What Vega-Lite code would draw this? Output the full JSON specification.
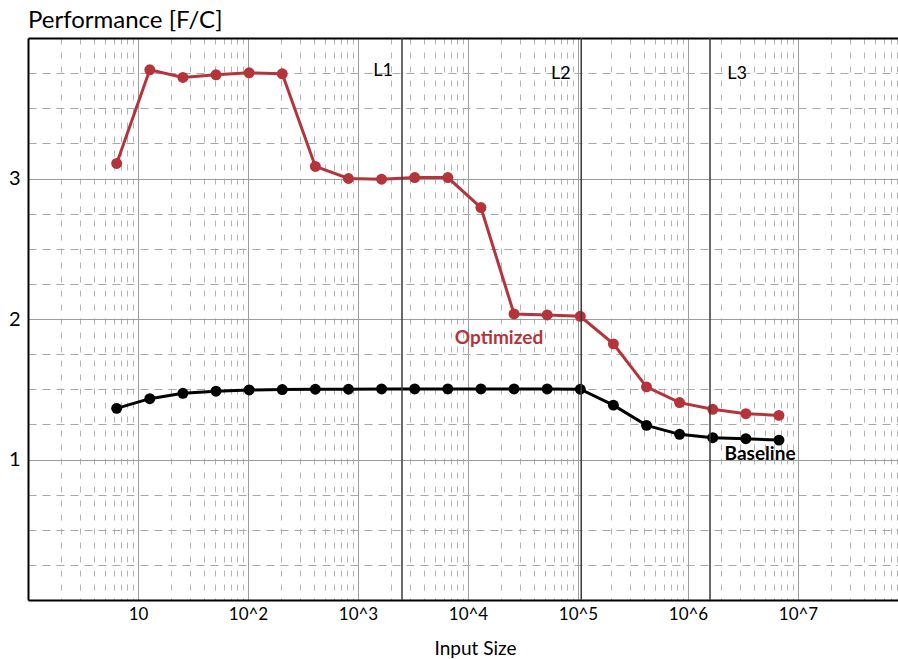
{
  "$schema": "https://vega.github.io/schema/vega-lite/v6.json",
  "width": 870,
  "height": 562,
  "autosize": {"type": "none"},
  "padding": {"left": 28, "top": 38, "right": 0, "bottom": 59},
  "background": "white",
  "config": {
    "view": {"stroke": null},
    "font": "Lato",
    "axis": {"labelFont": "Lato", "titleFont": "Lato"}
  },
  "title": {
    "text": "Performance [F/C]",
    "anchor": "start",
    "frame": "group",
    "baseline": "alphabetic",
    "offset": -15,
    "fontSize": 24,
    "fontWeight": "normal",
    "font": "Lato",
    "color": "black"
  },
  "datasets": {
    "perf": [
      {"size": 6.4, "perf": 3.107, "series": "Optimized"},
      {"size": 12.8, "perf": 3.774, "series": "Optimized"},
      {"size": 25.6, "perf": 3.719, "series": "Optimized"},
      {"size": 51.2, "perf": 3.738, "series": "Optimized"},
      {"size": 102.4, "perf": 3.752, "series": "Optimized"},
      {"size": 204.8, "perf": 3.745, "series": "Optimized"},
      {"size": 409.6, "perf": 3.086, "series": "Optimized"},
      {"size": 819.2, "perf": 3.0, "series": "Optimized"},
      {"size": 1638.4, "perf": 2.995, "series": "Optimized"},
      {"size": 3276.8, "perf": 3.007, "series": "Optimized"},
      {"size": 6553.6, "perf": 3.007, "series": "Optimized"},
      {"size": 13107.2, "perf": 2.793, "series": "Optimized"},
      {"size": 26214.4, "perf": 2.036, "series": "Optimized"},
      {"size": 52428.8, "perf": 2.029, "series": "Optimized"},
      {"size": 104857.6, "perf": 2.019, "series": "Optimized"},
      {"size": 209715.2, "perf": 1.823, "series": "Optimized"},
      {"size": 419430.4, "perf": 1.517, "series": "Optimized"},
      {"size": 838860.8, "perf": 1.405, "series": "Optimized"},
      {"size": 1677721.6, "perf": 1.357, "series": "Optimized"},
      {"size": 3355443.2, "perf": 1.326, "series": "Optimized"},
      {"size": 6710886.4, "perf": 1.314, "series": "Optimized"},
      {"size": 6.4, "perf": 1.364, "series": "Baseline"},
      {"size": 12.8, "perf": 1.433, "series": "Baseline"},
      {"size": 25.6, "perf": 1.471, "series": "Baseline"},
      {"size": 51.2, "perf": 1.486, "series": "Baseline"},
      {"size": 102.4, "perf": 1.495, "series": "Baseline"},
      {"size": 204.8, "perf": 1.498, "series": "Baseline"},
      {"size": 409.6, "perf": 1.5, "series": "Baseline"},
      {"size": 819.2, "perf": 1.5, "series": "Baseline"},
      {"size": 1638.4, "perf": 1.502, "series": "Baseline"},
      {"size": 3276.8, "perf": 1.502, "series": "Baseline"},
      {"size": 6553.6, "perf": 1.502, "series": "Baseline"},
      {"size": 13107.2, "perf": 1.502, "series": "Baseline"},
      {"size": 26214.4, "perf": 1.502, "series": "Baseline"},
      {"size": 52428.8, "perf": 1.502, "series": "Baseline"},
      {"size": 104857.6, "perf": 1.5, "series": "Baseline"},
      {"size": 209715.2, "perf": 1.387, "series": "Baseline"},
      {"size": 419430.4, "perf": 1.243, "series": "Baseline"},
      {"size": 838860.8, "perf": 1.179, "series": "Baseline"},
      {"size": 1677721.6, "perf": 1.155, "series": "Baseline"},
      {"size": 3355443.2, "perf": 1.148, "series": "Baseline"},
      {"size": 6710886.4, "perf": 1.138, "series": "Baseline"}
    ],
    "caches": [
      {"level": "L1", "size": 2512, "labelSize": 1690, "labelPerf": 3.764},
      {"level": "L2", "size": 107000, "labelSize": 70000, "labelPerf": 3.742},
      {"level": "L3", "size": 1585000, "labelSize": 2790000, "labelPerf": 3.742}
    ],
    "notes": [
      {"text": "Optimized", "series": "Optimized", "size": 19140, "perf": 1.864},
      {"text": "Baseline", "series": "Baseline", "size": 4520000, "perf": 1.036}
    ]
  },
  "resolve": {"axis": {"x": "independent", "y": "independent"}},
  "layer": [
    {
      "data": {"name": "perf"},
      "mark": {"type": "line", "strokeWidth": 3},
      "encoding": {
        "x": {
          "field": "size", "type": "quantitative",
          "scale": {"type": "log", "domain": [1, 81100000], "nice": false},
          "axis": {
            "orient": "bottom",
            "values": [2,3,4,5,6,7,8,9,20,30,40,50,60,70,80,90,200,300,400,500,600,700,800,900,2000,3000,4000,5000,6000,7000,8000,9000,20000,30000,40000,50000,60000,70000,80000,90000,200000,300000,400000,500000,600000,700000,800000,900000,2000000,3000000,4000000,5000000,6000000,7000000,8000000,9000000,20000000,30000000,40000000,50000000,60000000,70000000,80000000],
            "grid": true, "gridColor": "#b4b4b4", "gridWidth": 1, "gridDash": [6, 8], "gridOpacity": 1,
            "labels": false, "ticks": false, "domain": false, "title": null
          }
        },
        "y": {
          "field": "perf", "type": "quantitative",
          "scale": {"domain": [0, 4], "nice": false, "zero": false},
          "axis": {
            "orient": "left",
            "values": [0.25,0.5,0.75,1.25,1.5,1.75,2.25,2.5,2.75,3.25,3.5,3.75],
            "grid": true, "gridColor": "#a8a8a8", "gridWidth": 1, "gridDash": [8, 6], "gridOpacity": 1,
            "labels": false, "ticks": false, "domain": false, "title": null
          }
        },
        "color": {
          "field": "series", "type": "nominal",
          "scale": {"domain": ["Optimized", "Baseline"], "range": ["#b5343c", "#000000"]},
          "legend": null
        }
      }
    },
    {
      "data": {"name": "perf"},
      "mark": {"type": "point", "filled": true, "size": 120, "opacity": 1},
      "encoding": {
        "x": {
          "field": "size", "type": "quantitative",
          "scale": {"type": "log", "domain": [1, 81100000], "nice": false},
          "axis": {
            "orient": "bottom",
            "values": [10, 100, 1000, 10000, 100000, 1000000, 10000000],
            "labelExpr": "datum.value == 10 ? '10' : '10^' + round(log(datum.value) / LN10)",
            "grid": true, "gridColor": "#9c9c9c", "gridWidth": 1, "gridOpacity": 1,
            "ticks": false, "domain": true, "domainColor": "black", "domainWidth": 2,
            "labelFontSize": 17, "labelColor": "black", "labelPadding": 6,
            "title": "Input Size", "titleFontSize": 19, "titleFontWeight": "normal", "titleColor": "black",
            "titleX": 447, "titleY": 54, "titleBaseline": "alphabetic"
          }
        },
        "y": {
          "field": "perf", "type": "quantitative",
          "scale": {"domain": [0, 4], "nice": false, "zero": false},
          "axis": {
            "orient": "left",
            "values": [1, 2, 3],
            "grid": true, "gridColor": "#9c9c9c", "gridWidth": 1, "gridOpacity": 1,
            "ticks": false, "domain": true, "domainColor": "black", "domainWidth": 2,
            "labelFontSize": 20, "labelColor": "black", "labelPadding": 8,
            "title": null
          }
        },
        "color": {"field": "series", "type": "nominal", "legend": null}
      }
    },
    {
      "data": {"name": "caches"},
      "mark": {"type": "rule", "color": "#3a3a3a", "strokeWidth": 1.5},
      "encoding": {
        "x": {
          "field": "size", "type": "quantitative",
          "scale": {"type": "log", "domain": [1, 81100000], "nice": false},
          "axis": {
            "orient": "top", "values": [], "grid": false, "labels": false, "ticks": false,
            "domain": true, "domainColor": "black", "domainWidth": 2, "title": null
          }
        }
      }
    },
    {
      "data": {"name": "caches"},
      "mark": {"type": "text", "fontSize": 18, "color": "black", "align": "center", "baseline": "middle"},
      "encoding": {
        "x": {"field": "labelSize", "type": "quantitative", "scale": {"type": "log", "domain": [1, 81100000], "nice": false}, "axis": null},
        "y": {"field": "labelPerf", "type": "quantitative", "scale": {"domain": [0, 4], "nice": false, "zero": false}, "axis": null},
        "text": {"field": "level"}
      }
    },
    {
      "data": {"name": "notes"},
      "mark": {"type": "text", "fontSize": 19, "fontWeight": "bold", "align": "center", "baseline": "middle"},
      "encoding": {
        "x": {"field": "size", "type": "quantitative", "scale": {"type": "log", "domain": [1, 81100000], "nice": false}, "axis": null},
        "y": {"field": "perf", "type": "quantitative", "scale": {"domain": [0, 4], "nice": false, "zero": false}, "axis": null},
        "text": {"field": "text"},
        "color": {"field": "series", "type": "nominal", "legend": null}
      }
    }
  ]
}
